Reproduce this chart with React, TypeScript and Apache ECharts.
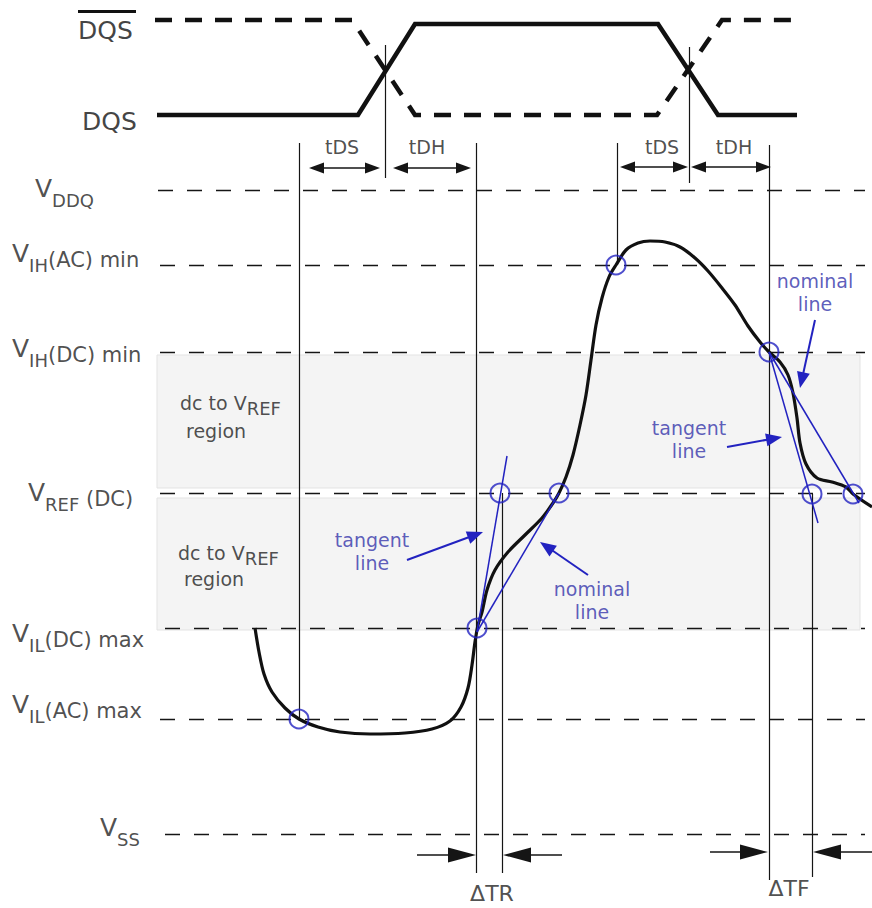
import React, { useEffect, useRef } from "react";
import * as echarts from "echarts";

const FONT = "'DejaVu Sans', 'Liberation Sans', sans-serif";
const INK = "#151515";
const TEXT = "#222222";
const BLUE = "#2222c0";
const BLUE_TEXT = "#3434aa";

// Strobe waveforms (diagram units = pixels of the drawing area)
const DQS_WAVE: number[][] = [[157, 115], [358, 115], [415, 24], [658, 24], [718, 115], [797, 115]];
const DQS_BAR_WAVE: number[][] = [[155, 20], [352, 20], [415, 115], [657, 115], [722, 20], [797, 20]];
const DQS_BAR_OVERLINE: number[][] = [[78, 11], [136, 11]];

// Voltage reference levels
const LEVEL_Y: number[] = [190, 265, 352, 493, 628, 719, 834];
const LEVEL_X0: number[] = [158, 160, 160, 160, 165, 160, 165];
const LEVEL_X1 = 865;
const LEVEL_LABELS: string[] = [
  "{v|V}{s|DDQ}",
  "{v|V}{s|IH}{m|(AC) min}",
  "{v|V}{s|IH}{m|(DC) min}",
  "{v|V}{s|REF}{m| (DC)}",
  "{v|V}{s|IL}{m|(DC) max}",
  "{v|V}{s|IL}{m|(AC) max}",
  "{v|V}{s|SS}",
];
const LEVEL_LABEL_X: number[] = [35, 12, 12, 28, 12, 12, 100];
const LEVEL_LABEL_Y: number[] = [197, 262, 357, 501, 642, 713, 836];

// dc to VREF shaded regions: [x0, y0, x1, y1]
const REGIONS: number[][] = [[157, 355, 860, 488], [157, 498, 860, 630]];
const REGION_TEXT_X: number[] = [180, 178];
const REGION_TEXT_Y: number[] = [408, 558];
const REGION_WORD_Y: number[] = [431, 579];

// DQ input waveform
const DQ_WAVE: number[][] = [
  [255, 628], [259, 652], [264, 674], [272, 692], [285, 708], [299, 719], [318, 727], [340, 732],
  [370, 734], [405, 733], [432, 729], [450, 721], [461, 707], [468, 688], [472, 665], [475, 642],
  [478, 625], [482, 612], [487, 590], [495, 570], [508, 552], [525, 535], [542, 518], [553, 503],
  [559, 493], [566, 477], [573, 455], [580, 425], [586, 395], [591, 360], [596, 325], [602, 298],
  [609, 277], [616, 265], [626, 250], [638, 243], [650, 241], [665, 242], [680, 247], [695, 258],
  [708, 271], [722, 288], [735, 305], [748, 326], [760, 342], [769, 352], [780, 362], [788, 375],
  [793, 393], [797, 418], [800, 443], [806, 464], [817, 478], [832, 482], [846, 487], [853, 494],
  [872, 507],
];

// Crossing markers
const CROSSINGS: number[][] = [[299, 719], [477, 628], [500, 493], [559, 493], [616, 265], [769, 352], [812, 494], [853, 494]];

// Tangent / nominal construction lines
const SLEW_LINES: number[][][] = [
  [[477, 632], [507, 456]],
  [[477, 632], [559, 493]],
  [[769, 352], [859, 503]],
  [[769, 352], [818, 523]],
];

// Vertical timing references: [x, yTop, yBottom]
const VERTICALS: number[][] = [
  [299, 143, 719], [385, 45, 178], [476, 143, 873], [502, 493, 873],
  [617, 143, 265], [689, 47, 183], [769, 145, 880], [812, 494, 877],
];

// tDS / tDH double arrows: [x0, x1, y]
const TIMING_ARROWS: number[][] = [[309, 380, 168], [393, 471, 168], [620, 688, 167], [691, 771, 167]];
const TIMING_LABELS: string[] = ["tDS", "tDH", "tDS", "tDH"];
const TIMING_LABEL_X: number[] = [342, 427, 662, 734];
const TIMING_LABEL_Y = 147;

// ΔTR / ΔTF arrows: [xFrom, xTip, y]
const DELTA_ARROWS: number[][] = [[417, 476, 855], [562, 503, 855], [710, 768, 852], [872, 813, 852]];
const DELTA_LABELS: string[] = ["ΔTR", "ΔTF"];
const DELTA_LABEL_X: number[] = [492, 789];
const DELTA_LABEL_Y: number[] = [893, 888];

// Annotation pointers: [x0, y0, xTip, yTip]
const POINTERS: number[][] = [[407, 560, 483, 532], [588, 575, 540, 542], [815, 320, 800, 388], [727, 447, 782, 437]];
const POINTER_LABELS: string[] = ["tangent\nline", "nominal\nline", "nominal\nline", "tangent\nline"];
const POINTER_LABEL_X: number[] = [372, 592, 815, 689];
const POINTER_LABEL_Y: number[] = [551, 600, 292, 439];

// Strobe names
const STROBE_LABELS: string[] = ["DQS", "DQS"];
const STROBE_LABEL_X: number[] = [78, 82];
const STROBE_LABEL_Y: number[] = [30, 121];

function backOff(from: number[], to: number[], d: number): number[] {
  const dx = to[0] - from[0];
  const dy = to[1] - from[1];
  const L = Math.hypot(dx, dy) || 1;
  return [to[0] - (dx / L) * d, to[1] - (dy / L) * d];
}

export default function App() {
  const ref = useRef<HTMLDivElement>(null);

  useEffect(() => {
    document.body.style.margin = "0";
    if (!ref.current) return;
    const chart = echarts.init(ref.current, undefined, { renderer: "svg" });

    const levelRich = {
      v: { fontSize: 25, lineHeight: 25, padding: [0, 0, 9, 0], verticalAlign: "bottom", color: TEXT, fontFamily: FONT },
      s: { fontSize: 18, lineHeight: 18, verticalAlign: "bottom", color: TEXT, fontFamily: FONT },
      m: { fontSize: 21, lineHeight: 21, padding: [0, 0, 4, 0], verticalAlign: "bottom", color: TEXT, fontFamily: FONT },
      d: { fontSize: 19, lineHeight: 19, padding: [0, 0, 5, 0], verticalAlign: "bottom", color: TEXT, fontFamily: FONT },
      r: { fontSize: 18, lineHeight: 18, verticalAlign: "bottom", color: TEXT, fontFamily: FONT },
    };

    const labelItems: any[] = [];
    LEVEL_LABELS.forEach((t, i) => {
      labelItems.push({ value: [LEVEL_LABEL_X[i], LEVEL_LABEL_Y[i]], text: t, label: { align: "left" } });
    });
    REGIONS.forEach((_, i) => {
      labelItems.push({ value: [REGION_TEXT_X[i], REGION_TEXT_Y[i]], text: "{d|dc to V}{r|REF}", label: { align: "left" } });
      labelItems.push({
        value: [REGION_TEXT_X[i] + 6, REGION_WORD_Y[i]],
        text: "region",
        label: { align: "left", fontSize: 19, color: TEXT },
      });
    });
    TIMING_LABELS.forEach((t, i) => {
      labelItems.push({ value: [TIMING_LABEL_X[i], TIMING_LABEL_Y], text: t, label: { align: "center", fontSize: 19, color: TEXT } });
    });
    DELTA_LABELS.forEach((t, i) => {
      labelItems.push({ value: [DELTA_LABEL_X[i], DELTA_LABEL_Y[i]], text: t, label: { align: "center", fontSize: 22, color: TEXT } });
    });
    POINTER_LABELS.forEach((t, i) => {
      labelItems.push({
        value: [POINTER_LABEL_X[i], POINTER_LABEL_Y[i]],
        text: t,
        label: { align: "center", fontSize: 19, lineHeight: 23, color: BLUE_TEXT },
      });
    });
    STROBE_LABELS.forEach((t, i) => {
      labelItems.push({ value: [STROBE_LABEL_X[i], STROBE_LABEL_Y[i]], text: t, label: { align: "left", fontSize: 25, color: "#111" } });
    });

    const option: any = {
      animation: false,
      backgroundColor: "#ffffff",
      grid: { left: 0, right: 0, top: 0, bottom: 0 },
      xAxis: { type: "value", min: 0, max: 872, show: false },
      yAxis: { type: "value", min: 0, max: 908, inverse: true, show: false },
      series: [
        {
          type: "line",
          name: "regions",
          data: [[0, 0]],
          symbol: "none",
          lineStyle: { opacity: 0 },
          silent: true,
          z: 0,
          markArea: {
            silent: true,
            itemStyle: { color: "#f4f4f4", borderColor: "#e3e3e3", borderWidth: 1 },
            data: REGIONS.map((r) => [{ coord: [r[0], r[1]] }, { coord: [r[2], r[3]] }]),
          },
        },
        {
          type: "lines",
          name: "levels",
          coordinateSystem: "cartesian2d",
          silent: true,
          z: 2,
          lineStyle: { color: INK, width: 1.3, type: [15, 14], opacity: 1 },
          data: LEVEL_Y.map((y, i) => ({ coords: [[LEVEL_X0[i], y], [LEVEL_X1, y]] })),
        },
        {
          type: "lines",
          name: "verticals",
          coordinateSystem: "cartesian2d",
          silent: true,
          z: 3,
          lineStyle: { color: INK, width: 1.2, opacity: 1 },
          data: VERTICALS.map((v) => ({ coords: [[v[0], v[1]], [v[0], v[2]]] })),
        },
        {
          type: "line",
          name: "DQS",
          data: DQS_WAVE,
          symbol: "none",
          silent: true,
          z: 4,
          lineStyle: { color: "#111", width: 4.5, cap: "butt", join: "miter" },
        },
        {
          type: "line",
          name: "DQS#",
          data: DQS_BAR_WAVE,
          symbol: "none",
          silent: true,
          z: 4,
          lineStyle: { color: "#111", width: 4.5, type: [17, 13], cap: "butt", join: "miter" },
        },
        {
          type: "lines",
          name: "overline",
          coordinateSystem: "cartesian2d",
          silent: true,
          z: 4,
          lineStyle: { color: "#111", width: 3, opacity: 1 },
          data: [{ coords: DQS_BAR_OVERLINE }],
        },
        {
          type: "line",
          name: "DQ",
          data: DQ_WAVE,
          symbol: "none",
          smooth: 0.3,
          silent: true,
          z: 5,
          lineStyle: { color: "#111", width: 3.2 },
        },
        {
          type: "lines",
          name: "slew",
          coordinateSystem: "cartesian2d",
          silent: true,
          z: 6,
          lineStyle: { color: BLUE, width: 1.5, opacity: 1 },
          data: SLEW_LINES.map((s) => ({ coords: s })),
        },
        {
          type: "scatter",
          name: "crossings",
          data: CROSSINGS,
          symbol: "circle",
          symbolSize: 19,
          silent: true,
          z: 7,
          itemStyle: { color: "rgba(0,0,0,0)", borderColor: BLUE, borderWidth: 2 },
        },
        {
          type: "lines",
          name: "timing",
          coordinateSystem: "cartesian2d",
          silent: true,
          z: 6,
          symbol: ["triangle", "triangle"],
          symbolSize: [[11, 15], [11, 15]],
          lineStyle: { color: INK, width: 1.7, opacity: 1 },
          data: TIMING_ARROWS.map((a) => {
            const p0 = [a[0], a[2]];
            const p1 = [a[1], a[2]];
            return { coords: [backOff(p1, p0, 7.5), backOff(p0, p1, 7.5)] };
          }),
        },
        {
          type: "lines",
          name: "delta",
          coordinateSystem: "cartesian2d",
          silent: true,
          z: 6,
          symbol: ["none", "triangle"],
          symbolSize: [[1, 1], [15, 28]],
          lineStyle: { color: INK, width: 1.6, opacity: 1 },
          data: DELTA_ARROWS.map((a) => {
            const p0 = [a[0], a[2]];
            const p1 = [a[1], a[2]];
            return { coords: [p0, backOff(p0, p1, 14)] };
          }),
        },
        {
          type: "lines",
          name: "pointers",
          coordinateSystem: "cartesian2d",
          silent: true,
          z: 6,
          symbol: ["none", "triangle"],
          symbolSize: [[1, 1], [13, 16]],
          lineStyle: { color: BLUE, width: 2, opacity: 1 },
          itemStyle: { color: BLUE },
          data: POINTERS.map((a) => {
            const p0 = [a[0], a[1]];
            const p1 = [a[2], a[3]];
            return { coords: [p0, backOff(p0, p1, 8)] };
          }),
        },
        {
          type: "scatter",
          name: "labels",
          silent: true,
          z: 10,
          symbolSize: 1,
          itemStyle: { color: "rgba(0,0,0,0)" },
          emphasis: { disabled: true },
          label: {
            show: true,
            position: "inside",
            verticalAlign: "middle",
            fontFamily: FONT,
            color: TEXT,
            formatter: (p: any) => p.data.text,
            rich: levelRich,
          },
          data: labelItems,
        },
      ],
    };

    chart.setOption(option);
    return () => chart.dispose();
  }, []);

  return <div ref={ref} style={{ width: 872, height: 908, background: "#fff" }} />;
}
